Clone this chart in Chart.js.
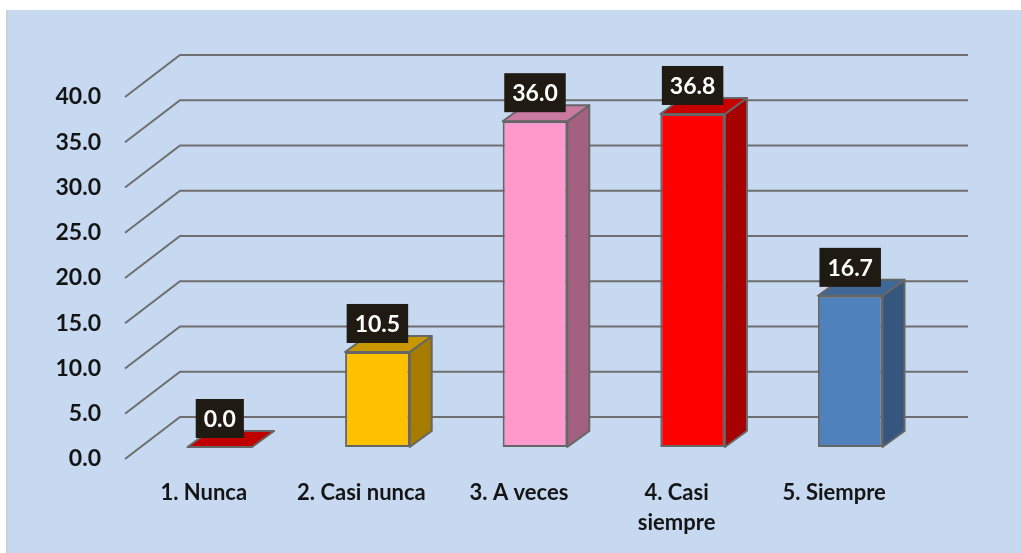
<!DOCTYPE html>
<html>
<head>
<meta charset="utf-8">
<script src="https://cdn.jsdelivr.net/npm/chart.js@4"></script>
<style>
  html, body { margin: 0; padding: 0; background: #fff; }
  canvas { display: block; }
</style>
</head>
<body>
<canvas id="chart" width="1021" height="553"></canvas>
<script>
// datos del gráfico
const categories = ['1. Nunca', '2. Casi nunca', '3. A veces', ['4. Casi', 'siempre'], '5. Siempre'];
const values = [0.0, 10.5, 36.0, 36.8, 16.7];
const frontColors = ['#C00000', '#FFC000', '#FF99CC', '#FF0000', '#4F81BD'];
const sideColors = ['#800000', '#A67C00', '#A3607F', '#A60000', '#35567E'];
const topColors = ['#C00000', '#C89700', '#C97AA0', '#C80000', '#3F6797'];
const yMin = 0, yMax = 40, yStep = 5;

// desplazamientos de la perspectiva
const FRONT = { dx: -16, dy: 12 };
const BACK = { dx: 39, dy: -30 };
const DEPTH = { dx: 22, dy: -16 };
const FONT = 'Lato, "Open Sans", sans-serif';

const perspective = {
    id: 'perspective',
    beforeDraw(chart) {
        const c = chart.ctx;
        c.save();
        c.fillStyle = '#C6D9F1';
        c.fillRect(7, 10, chart.width - 7, chart.height - 10);
        c.fillStyle = '#D0D0D0';
        c.fillRect(6, 10, 2, chart.height - 10);
        c.restore();
    },
    beforeDatasetsDraw(chart) {
        const c = chart.ctx;
        const y = chart.scales.y;
        const area = chart.chartArea;
        c.save();
        c.strokeStyle = '#6E6E6E';
        c.lineWidth = 2;
        y.ticks.forEach(t => {
            const py = y.getPixelForValue(t.value);
            c.beginPath();
            c.moveTo(area.left + FRONT.dx, py + FRONT.dy);
            c.lineTo(area.left + BACK.dx, py + BACK.dy);
            c.lineTo(area.right + BACK.dx, py + BACK.dy);
            c.stroke();
        });
        c.restore();
    },
    afterDatasetsDraw(chart) {
        const c = chart.ctx;
        const meta = chart.getDatasetMeta(0);
        c.save();
        c.lineWidth = 2;
        c.strokeStyle = '#666666';
        c.lineJoin = 'round';
        meta.data.forEach((bar, i) => {
            const p = bar.getProps(['x', 'y', 'base', 'width'], true);
            const l = p.x - p.width / 2, r = p.x + p.width / 2;
            // cara lateral
            if (p.base - p.y > 0.5) {
                c.beginPath();
                c.moveTo(r, p.y);
                c.lineTo(r + DEPTH.dx, p.y + DEPTH.dy);
                c.lineTo(r + DEPTH.dx, p.base + DEPTH.dy);
                c.lineTo(r, p.base);
                c.closePath();
                c.fillStyle = sideColors[i];
                c.fill();
                c.stroke();
            }
            // cara superior
            c.beginPath();
            c.moveTo(l, p.y);
            c.lineTo(l + DEPTH.dx, p.y + DEPTH.dy);
            c.lineTo(r + DEPTH.dx, p.y + DEPTH.dy);
            c.lineTo(r, p.y);
            c.closePath();
            c.fillStyle = topColors[i];
            c.fill();
            c.stroke();
        });
        // etiquetas de datos
        c.font = 'bold 23px ' + FONT;
        c.textAlign = 'center';
        c.textBaseline = 'middle';
        meta.data.forEach((bar, i) => {
            const p = bar.getProps(['x', 'y'], true);
            const txt = values[i].toFixed(1);
            const w = c.measureText(txt).width + 16;
            const h = 39;
            const bottom = p.y - 9;
            c.fillStyle = '#1F1B12';
            c.fillRect(p.x - w / 2, bottom - h, w, h);
            c.fillStyle = '#FFFFFF';
            c.fillText(txt, p.x, bottom - h / 2 + 1);
        });
        c.restore();
    }
};

const ctx = document.getElementById('chart').getContext('2d');
const chart = new Chart(ctx, {
    type: 'bar',
    data: {
        labels: categories,
        datasets: [{
            data: values,
            backgroundColor: frontColors,
            borderColor: '#666666',
            borderWidth: 2,
            borderSkipped: false,
            categoryPercentage: 1,
            barPercentage: 0.41
        }]
    },
    options: {
        responsive: false,
        animation: false,
        devicePixelRatio: 1,
        layout: { padding: { top: 85, right: 92, bottom: 0, left: 0 } },
        plugins: {
            legend: { display: false },
            tooltip: { enabled: false }
        },
        scales: {
            x: {
                grid: { display: false, drawTicks: false },
                border: { display: false },
                ticks: {
                    color: '#141414',
                    font: { family: FONT, size: 22, weight: 'bold', lineHeight: 1.35 },
                    padding: 31,
                    labelOffset: -16,
                    maxRotation: 0,
                    autoSkip: false
                },
                afterFit: s => { s.height = 106; }
            },
            y: {
                min: yMin,
                max: yMax,
                grid: { display: false, drawTicks: false },
                border: { display: false },
                ticks: {
                    stepSize: yStep,
                    color: '#141414',
                    font: { family: FONT, size: 23, weight: 'bold' },
                    padding: 40,
                    labelOffset: 12,
                    callback: v => v.toFixed(1)
                },
                afterFit: s => { s.width = 141; }
            }
        }
    },
    plugins: [perspective]
});
</script>
</body>
</html>
